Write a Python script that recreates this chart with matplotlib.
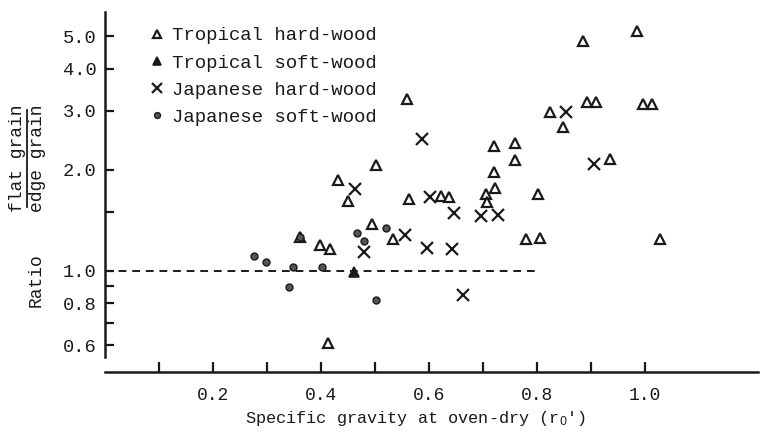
import matplotlib
matplotlib.use("Agg")
import matplotlib.pyplot as plt
from matplotlib.lines import Line2D
from matplotlib.ticker import FixedLocator, FixedFormatter, NullLocator

FONT = "Liberation Mono"
plt.rcParams['font.family'] = [FONT, 'DejaVu Sans Mono']
plt.rcParams['mathtext.fontset'] = 'custom'
plt.rcParams['mathtext.rm'] = FONT
plt.rcParams['mathtext.it'] = FONT

# ---- data ----
trop_hard_x = [0.431, 0.450, 0.502, 0.494, 0.534, 0.399, 0.417, 0.414, 0.362,
               0.560, 0.564, 0.623, 0.637, 0.706, 0.707, 0.721, 0.723, 0.721,
               0.760, 0.760, 0.802, 0.781, 0.806, 0.825, 0.849, 0.885, 0.985,
               0.894, 0.909, 0.997, 1.014, 0.935, 1.029]
trop_hard_y = [1.87, 1.61, 2.07, 1.377, 1.243, 1.192, 1.16, 0.609, 1.265,
               3.24, 1.635, 1.675, 1.66, 1.69, 1.60, 1.975, 1.76, 2.36,
               2.40, 2.14, 1.69, 1.245, 1.256, 2.97, 2.69, 4.85, 5.18,
               3.19, 3.19, 3.13, 3.15, 2.16, 1.245]

trop_soft_x = [0.462]
trop_soft_y = [0.995]

jap_hard_x = [0.464, 0.479, 0.587, 0.603, 0.646, 0.696, 0.728, 0.555, 0.597,
              0.643, 0.664, 0.855, 0.907]
jap_hard_y = [1.75, 1.14, 2.47, 1.66, 1.484, 1.458, 1.47, 1.277, 1.168,
              1.16, 0.848, 2.98, 2.08]

jap_soft_x = [0.521, 0.467, 0.479, 0.277, 0.299, 0.348, 0.403, 0.341, 0.502, 0.362]
jap_soft_y = [1.343, 1.295, 1.228, 1.106, 1.063, 1.03, 1.025, 0.898, 0.82, 1.265]

ref_x = [0.0, 0.8]
ref_y = [1.0, 1.0]

x_ticks = [0.1, 0.2, 0.3, 0.4, 0.5, 0.6, 0.7, 0.8, 0.9, 1.0]
x_ticklabels = ["", "0.2", "", "0.4", "", "0.6", "", "0.8", "", "1.0"]
y_ticks = [0.6, 0.7, 0.8, 0.9, 1.0, 1.5, 2.0, 3.0, 4.0, 5.0]
y_ticklabels = ["0.6", "", "0.8", "", "1.0", "", "2.0", "3.0", "4.0", "5.0"]

labels = ["Tropical hard-wood", "Tropical soft-wood",
          "Japanese hard-wood", "Japanese soft-wood"]

# ---- figure ----
W, H = 761, 436
fig = plt.figure(figsize=(W / 100, H / 100), dpi=100)
ax = fig.add_axes([105 / W, 1 - 372 / H, 653 / W, 360 / H])
ax.set_yscale('log')
ax.set_xlim(0, 1.21)
ax.set_ylim(0.5, 5.9)

ink = '#1a1a1a'
ax.plot(ref_x, ref_y, linestyle=(0, (4, 3)), color=ink, lw=1.4)

ax.plot(trop_hard_x, trop_hard_y, linestyle='none', marker='^', ms=7,
        mfc='white', mec=ink, mew=1.6, label=labels[0])
ax.plot(trop_soft_x, trop_soft_y, linestyle='none', marker='^', ms=7,
        mfc=ink, mec=ink, mew=1.2, label=labels[1])
ax.plot(jap_hard_x, jap_hard_y, linestyle='none', marker='x', ms=8,
        mec=ink, mew=1.6, label=labels[2])
ax.plot(jap_soft_x, jap_soft_y, linestyle='none', marker='o', ms=5,
        mfc='#555555', mec=ink, mew=1.0, label=labels[3])

for s in ['top', 'right']:
    ax.spines[s].set_visible(False)
ax.spines['left'].set_bounds(0.555, 5.9)
ax.spines['left'].set_linewidth(1.8)
ax.spines['bottom'].set_linewidth(1.8)
ax.spines['left'].set_color(ink)
ax.spines['bottom'].set_color(ink)

ax.xaxis.set_major_locator(FixedLocator(x_ticks))
ax.xaxis.set_major_formatter(FixedFormatter(x_ticklabels))
ax.yaxis.set_major_locator(FixedLocator(y_ticks))
ax.yaxis.set_major_formatter(FixedFormatter(y_ticklabels))
ax.yaxis.set_minor_locator(NullLocator())
ax.xaxis.set_minor_locator(NullLocator())

ax.tick_params(axis='x', direction='in', length=7, width=1.6, pad=11,
               labelsize=13, colors=ink)
ax.tick_params(axis='y', direction='in', length=6.5, width=1.6, pad=6,
               labelsize=13.5, colors=ink)

ax.set_xlabel("Specific gravity at oven-dry (r$_\\mathregular{O}$')",
              fontsize=12.2, color=ink, va='center')
ax.xaxis.set_label_coords((416 - 105) / 653, (372 - 418) / 360)

# y label: "Ratio" + stacked fraction
fig.text(36 / W, 1 - 280 / H, "Ratio", rotation=90, ha='center', va='center',
         fontsize=13, color=ink)
fig.text(18 / W, 1 - 158 / H, "flat grain", rotation=90, ha='center',
         va='center', fontsize=13, color=ink)
fig.text(37 / W, 1 - 158 / H, "edge grain", rotation=90, ha='center',
         va='center', fontsize=13, color=ink)
fig.add_artist(Line2D([27 / W, 27 / W], [1 - 110 / H, 1 - 207 / H],
                      transform=fig.transFigure, color=ink, lw=1.3))

leg = ax.legend(loc='upper left', bbox_to_anchor=(147 / W, 1 - 27 / H),
                bbox_transform=fig.transFigure, frameon=False, fontsize=13.7,
                handlelength=1.0, handletextpad=0.3, labelspacing=0.52,
                borderpad=0, borderaxespad=0, markerscale=0.85)
for t in leg.get_texts():
    t.set_color(ink)

fig.savefig("out.png", dpi=100, facecolor='white')
